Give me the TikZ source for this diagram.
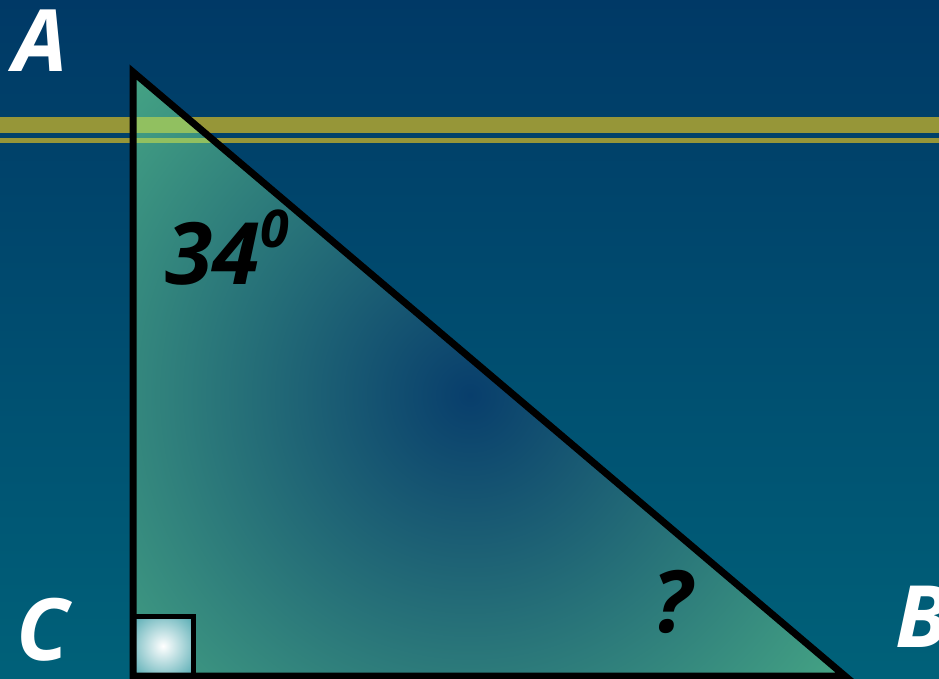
\documentclass[tikz,border=0pt]{standalone}
\usepackage{fontspec}
\setmainfont{Open Sans}
\definecolor{bgtop}{RGB}{0,57,102}
\definecolor{bgbot}{RGB}{0,97,121}
\definecolor{trimid}{RGB}{8,62,108}
\definecolor{triout}{RGB}{68,162,132}
\definecolor{goldbar}{RGB}{150,150,56}
\definecolor{goldlit}{RGB}{145,192,96}
\definecolor{sqedge}{RGB}{22,140,150}

\tikzset{
  vertexlabel/.style={text=white, inner sep=0pt, font=\fontsize{86}{90}\selectfont\bfseries\itshape},
  anglelabel/.style={text=black, inner sep=0pt, font=\fontsize{86}{90}\selectfont\bfseries\itshape},
}

\begin{document}
\begin{tikzpicture}[x=1pt, y=-1pt, line join=miter]

  %% ════ background ════
  \shade[top color=bgtop, bottom color=bgbot] (0,0) rectangle (939,678);

  \coordinate (A) at (133,72);
  \coordinate (C) at (133,676);
  \coordinate (B) at (845,676);

  %% ════ triangle fill ════
  \begin{scope}
    \clip (A) -- (B) -- (C) -- cycle;
    \shade[inner color=trimid, outer color=triout] (470,395) circle (460);
  \end{scope}

  %% ════ gold bars (lighter where they cross the triangle) ════
  \fill[goldbar] (0,117) rectangle (939,133);
  \fill[goldbar] (0,138) rectangle (939,143);
  \begin{scope}
    \clip (A) -- (B) -- (C) -- cycle;
    \fill[goldlit] (0,117) rectangle (939,133);
    \fill[goldlit] (0,138) rectangle (939,143);
  \end{scope}

  %% ════ right angle mark ════
  \coordinate (Q1) at (133,616);
  \coordinate (Q2) at (193,676);
  \begin{scope}
    \clip (Q1) rectangle (Q2);
    \shade[inner color=white, outer color=sqedge] (163,646) circle (56);
  \end{scope}
  \draw[line width=5pt] (Q1) rectangle (Q2);

  %% ════ triangle outline ════
  \draw[line width=7pt] (A) -- (B) -- (C) -- cycle;

  %% ════ labels ════
  \node[vertexlabel] (lA) at (41,41) {A};
  \node[vertexlabel] (lC) at (43,630) {C};
  \node[vertexlabel] (lB) at (922,617) {B};
  \node[anglelabel] (angA) at (227,248) {34\raisebox{37pt}{\fontsize{52}{54}\selectfont 0}};
  \node[anglelabel] (angB) at (672,602) {?};

  \pgfresetboundingbox
  \path[use as bounding box] (0,0) rectangle (939,678);
\end{tikzpicture}
\end{document}
